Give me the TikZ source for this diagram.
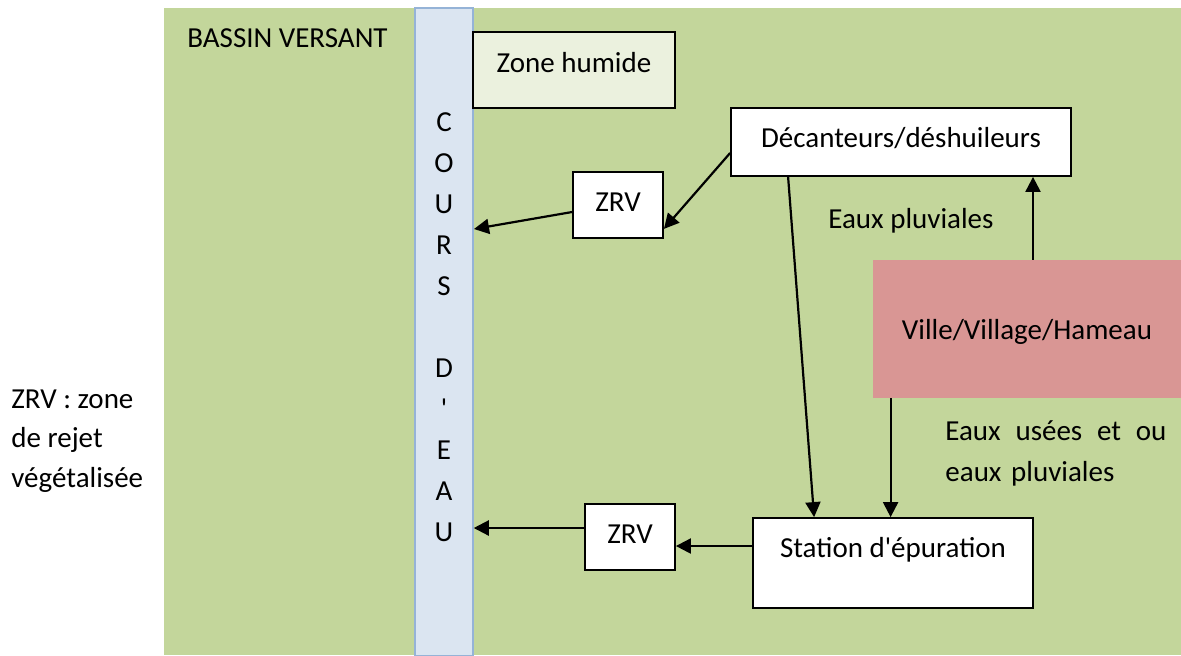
\documentclass[tikz,border=0pt]{standalone}
\usepackage{fontspec}
\setmainfont{Carlito}
\usetikzlibrary{arrows.meta,calc}
\definecolor{bassin}{RGB}{195,214,155}
\definecolor{riviere}{RGB}{219,229,241}
\definecolor{rivebord}{RGB}{149,179,215}
\definecolor{humide}{RGB}{235,241,222}
\definecolor{ville}{RGB}{217,150,148}
\newcommand\apos{\XeTeXglyph\XeTeXcharglyph"27\relax}
\begin{document}
\begin{tikzpicture}[x=0.5pt,y=-0.5pt,
  font=\fontsize{14.5}{17.4}\selectfont,
  boite/.style={draw, line width=0.9pt, fill=white, inner sep=0pt, text height=10pt},
  fleche/.style={-{Triangle[length=7.5pt,width=7.5pt]}, line width=1.1pt}]
\useasboundingbox (0,0) rectangle (1181,655);
\fill[bassin] (164,8) rectangle (1181,655);
\node[anchor=base west, inner sep=0pt] (titre) at (187,47) {BASSIN VERSANT};

\node[draw=rivebord, fill=riviere, line width=0.75pt, minimum width=29pt, minimum height=324pt, inner sep=0pt] (riv) at (444,332) {};
\foreach \i/\l in {0/C,1/O,2/U,3/R,4/S,6/D,7/{\apos},8/E,9/A,10/U}
  \node[anchor=base, inner sep=0pt] (r\i) at (444,131+41*\i) {\l};

\node[boite, fill=humide, minimum width=101pt, minimum height=38pt, text depth=8pt] (zh) at (574,70) {Zone humide};
\node[boite, minimum width=170pt, minimum height=34pt, text depth=5pt] (dec) at (901,142) {Décanteurs/déshuileurs};
\node[boite, minimum width=45pt, minimum height=33pt, text depth=4pt] (zrva) at (618,205) {ZRV};
\node[fill=ville, inner sep=0pt, minimum width=154pt, minimum height=69pt, text height=10pt, text depth=0pt] (vil) at (1027,329) {Ville/Village/Hameau};
\node[boite, minimum width=140pt, minimum height=45pt, text depth=16pt] (sta) at (893,563) {Station d\apos épuration};
\node[boite, minimum width=45pt, minimum height=33pt, text depth=4pt] (zrvb) at (630,537) {ZRV};

\node[anchor=base west, inner sep=0pt] (pluv) at (828,228) {Eaux pluviales};
\node[anchor=north west, inner sep=0pt, text width=110.5pt, align=left, font=\fontsize{14.5}{20.5}\selectfont] (usees) at (945,420)
{Eaux\hfill usées\hfill et\hfill ou\\eaux pluviales};
\node[anchor=north west, inner sep=0pt, align=left, font=\fontsize{14.5}{19.8}\selectfont] (leg) at (11,389)
{ZRV : zone\\de rejet\\végétalisée};

\coordinate (inA) at (474,229);
\draw[fleche] ([yshift=-5.5pt]dec.west) -- ([yshift=5pt]zrva.south east);
\draw[fleche] ([yshift=-3.5pt]zrva.west) -- (inA);
\draw[fleche] ([xshift=29pt]dec.south west) -- ([xshift=31pt]sta.north west);
\draw[fleche] ([xshift=3pt]vil.north) -- ([xshift=3pt]vil.north |- dec.south);
\draw[fleche] ([xshift=9pt]vil.south west) -- ([xshift=9pt]vil.south west |- sta.north);
\draw[fleche] ([yshift=8.5pt]sta.west) -- ([yshift=8.5pt]sta.west -| zrvb.east);
\draw[fleche] ([yshift=4.5pt]zrvb.west) -- ([yshift=4.5pt]zrvb.west -| riv.east);
\end{tikzpicture}
\end{document}
